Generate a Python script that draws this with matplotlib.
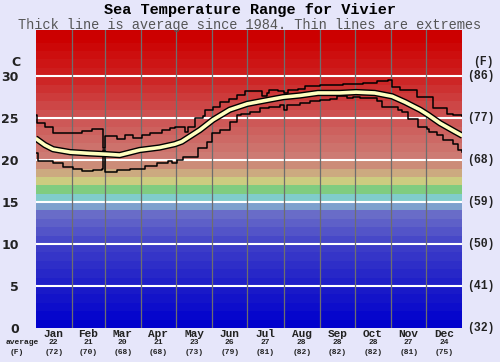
import numpy as np
import matplotlib
matplotlib.use("Agg")
import matplotlib.pyplot as plt
from matplotlib.transforms import blended_transform_factory

# day-of-year readings
max_days = [0, 1.3, 8, 15, 40, 48, 58, 59.4, 70, 76.5, 83, 91, 98, 108, 115, 119, 128, 130,
            136, 143, 145, 152, 158, 165, 172, 179, 194, 198, 200, 207, 212, 216, 224, 230,
            243, 246, 263, 280, 292, 301, 305, 312, 326, 340, 352, 357, 365]
max_vals = [25.4, 24.4, 24.0, 23.2, 23.45, 23.65, 21.4, 22.9, 22.5, 23.0, 22.6, 23.05, 23.25,
            23.6, 23.8, 24.0, 23.4, 24.0, 25.0, 25.2, 26.0, 26.3, 26.9, 27.3, 27.7, 28.25,
            27.6, 28.0, 28.4, 28.25, 28.0, 28.3, 28.5, 28.8, 28.9, 28.97, 29.05, 29.2, 29.45,
            29.5, 28.7, 28.4, 27.5, 26.15, 25.55, 25.35, 25.2]

min_days = [0, 2, 15, 23.5, 32, 40, 49, 57, 58, 59.4, 70, 81, 94, 104, 113, 117, 121, 126,
            139, 147, 151, 158, 166, 172, 176, 183, 192, 200, 209, 212, 215, 226, 235, 243,
            252, 258, 266, 271, 277, 292, 296, 310, 313, 318, 327, 335, 336, 343, 348, 357,
            361, 365]
min_vals = [20.9, 19.9, 19.6, 19.2, 19.0, 18.7, 18.8, 19.0, 21.2, 18.6, 18.8, 19.0, 19.3, 19.6,
            19.9, 19.7, 20.0, 20.4, 21.5, 22.2, 23.2, 23.6, 24.55, 25.35, 25.55, 25.75, 26.15,
            26.35, 26.55, 26.0, 26.55, 26.8, 27.0, 27.2, 27.3, 27.6, 27.45, 27.55, 27.4, 27.1,
            26.3, 26.0, 25.75, 24.95, 24.0, 23.65, 23.4, 23.0, 22.4, 21.9, 21.2, 21.0]

avg_days = [0, 8, 15, 29.5, 46.6, 61, 72, 89, 106, 119, 125, 140.6, 151.7, 166, 181, 200,
            211.6, 226, 241.5, 260, 274, 290, 304.8, 316, 328.7, 335.5, 345.8, 358.5, 365]
avg_vals = [22.6, 21.8, 21.3, 20.95, 20.8, 20.7, 20.6, 21.2, 21.5, 21.9, 22.2, 23.6, 24.8,
            26.0, 26.7, 27.2, 27.5, 27.7, 28.0, 28.0, 28.1, 28.0, 27.6, 26.9, 26.0, 25.4,
            24.4, 23.4, 22.9]

months = ["Jan", "Feb", "Mar", "Apr", "May", "Jun", "Jul", "Aug", "Sep", "Oct", "Nov", "Dec"]
month_len = [31, 28, 31, 30, 31, 30, 31, 31, 30, 31, 30, 31]
month_avg_c = [22, 21, 20, 21, 23, 26, 27, 28, 28, 28, 27, 24]
month_avg_f = [72, 70, 68, 68, 73, 79, 81, 82, 82, 82, 81, 75]

c_ticks = [0, 5, 10, 15, 20, 25, 30]
f_ticks = ["(32)", "(41)", "(50)", "(59)", "(68)", "(77)", "(86)"]

# colour of each 1 degree band
anchors = {0: (0, 0, 205), 4: (25, 25, 200), 9: (60, 60, 200), 13: (105, 108, 200),
           14: (125, 160, 205), 15: (128, 204, 204), 16: (128, 204, 128),
           17: (204, 204, 128), 18: (204, 170, 128), 19: (204, 140, 120),
           20: (205, 122, 115), 25: (205, 80, 80), 30: (205, 28, 28), 34: (204, 0, 0),
           36: (204, 0, 0)}
keys = sorted(anchors)
band_cols = []
for i in range(36):
    rgb = [np.interp(i, keys, [anchors[k][j] for k in keys]) / 255 for j in range(3)]
    band_cols.append(rgb)

bg = "#E6E6FA"
fig = plt.figure(figsize=(5, 3.62), dpi=100, facecolor=bg)
ax = fig.add_axes([35.5 / 500, 34 / 362, 427 / 500, 298 / 362])
ax.set_xlim(0, 365)
ax.set_ylim(0, 35.5)

for i in range(36):
    ax.axhspan(i, i + 1, color=band_cols[i], lw=0, zorder=0)
for t in c_ticks[1:]:
    ax.axhline(t, color="white", lw=1.5, zorder=1)
for b in np.cumsum(month_len)[:-1]:
    ax.axvline(b, color="#6e6e6e", lw=0.9, zorder=1)

ax.plot(max_days, max_vals, color="black", lw=1.1, drawstyle="steps-post", zorder=3)
ax.plot(min_days, min_vals, color="black", lw=1.1, drawstyle="steps-post", zorder=3)
ax.plot(avg_days, avg_vals, color="black", lw=4.6, zorder=4, solid_capstyle="butt")
ax.plot(avg_days, avg_vals, color="#FFFFC0", lw=2.6, zorder=5, solid_capstyle="butt")

for s in ax.spines.values():
    s.set_visible(False)
ax.set_xticks([])
ax.set_yticks(c_ticks)
ax.set_yticklabels([str(t) for t in c_ticks], fontsize=9, color="#222222",
                   family="DejaVu Sans", weight="bold")
ax.tick_params(axis="y", length=0, pad=12)

trY = blended_transform_factory(ax.transAxes, ax.transData)
for t, lab in zip(c_ticks, f_ticks):
    ax.text(1.01, t, lab, transform=trY, ha="left", va="center", fontsize=8.3,
            family="Liberation Mono", weight="bold", color="#222222")
fig.text(16 / 500, 1 - 62 / 362, "C", ha="center", va="center", fontsize=9,
         family="DejaVu Sans", weight="bold", color="#222222")
fig.text(483 / 500, 1 - 62 / 362, "(F)", ha="center", va="center", fontsize=8.3,
         family="Liberation Mono", weight="bold", color="#222222")

trX = blended_transform_factory(ax.transData, ax.transAxes)
starts = np.concatenate([[0], np.cumsum(month_len)[:-1]])
for m, s, n, ac, af in zip(months, starts, month_len, month_avg_c, month_avg_f):
    xc = s + n / 2
    ax.text(xc, -6 / 298, m, transform=trX, ha="center", va="center", fontsize=8,
            family="Liberation Mono", weight="bold", color="#222222")
    ax.text(xc, -15 / 298, str(ac), transform=trX, ha="center", va="center", fontsize=5.8,
            family="Liberation Mono", weight="bold", color="#222222")
    ax.text(xc, -24.5 / 298, "(%d)" % af, transform=trX, ha="center", va="center",
            fontsize=5.8, family="Liberation Mono", weight="bold", color="#222222")
fig.text(22 / 500, 1 - 343 / 362, "average", ha="center", va="center", fontsize=5.8,
         family="Liberation Mono", weight="bold", color="#222222")
fig.text(17 / 500, 1 - 352.5 / 362, "(F)", ha="center", va="center", fontsize=5.8,
         family="Liberation Mono", weight="bold", color="#222222")

fig.text(0.5, 1 - 10 / 362, "Sea Temperature Range for Vivier", ha="center", va="center",
         fontsize=11, family="Liberation Mono", weight="bold", color="black")
fig.text(0.5, 1 - 24.5 / 362, "Thick line is average since 1984. Thin lines are extremes",
         ha="center", va="center", fontsize=9.8, family="Liberation Mono", color="#555555")

fig.savefig("out.png", dpi=100, facecolor=bg)
